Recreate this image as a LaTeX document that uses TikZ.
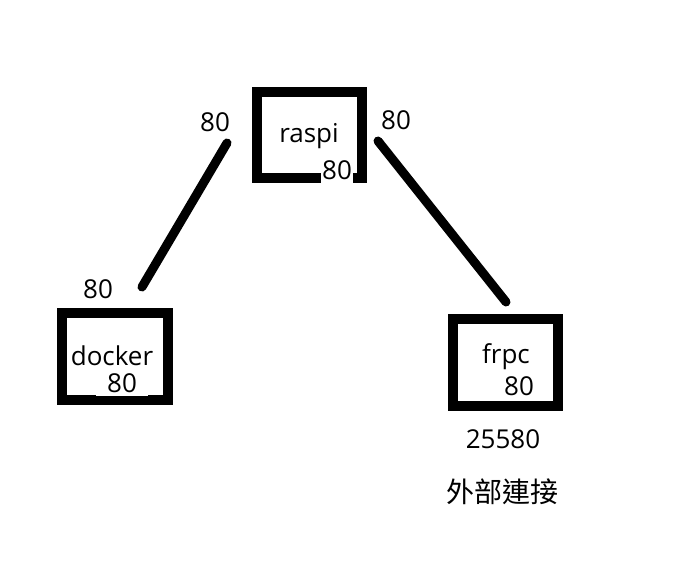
\documentclass[tikz,border=0pt]{standalone}
\usepackage{fontspec}
\setmainfont{Open Sans}
\newfontfamily\cjk{Noto Sans CJK TC}
\begin{document}
\begin{tikzpicture}[x=1pt,y=-1pt,
  box/.style={draw=black,line width=10pt,minimum width=#1,minimum height=87pt,inner sep=0pt},
  lbl/.style={font=\fontsize{26}{30}\selectfont,inner sep=0pt,anchor=base},
  wire/.style={line width=9pt,line cap=round}]
\useasboundingbox (0,0) rectangle (696,564);
\fill[white] (0,0) rectangle (696,564);
% boxes
\node[box=105pt,minimum height=86pt] (raspi) at (309.5,135) {};
\node[box=106pt] (docker) at (115,356.5) {};
\node[box=105pt] (frpc) at (505.5,362.5) {};
% box texts
\node[lbl] (traspi) at (309,143) {raspi};
\node[lbl,fill=white,inner ysep=3pt,inner xsep=1pt] (praspi) at (337,180) {80};
\node[lbl] (tdocker) at (112,365) {docker};
\node[lbl,fill=white,minimum width=52pt,inner ysep=4pt] (pdocker) at (122,392) {80};
\node[lbl] (tfrpc) at (506,363) {frpc};
\node[lbl] (pfrpc) at (519,395) {80};
% outer labels
\node[lbl] (l1) at (215,132) {80};
\node[lbl] (l2) at (396,130) {80};
\node[lbl] (l3) at (98,298) {80};
\node[lbl] (ext) at (503,448) {25580};
\node[font=\cjk\fontsize{28}{32}\selectfont,inner sep=0pt] (cjk) at (502,492) {外部連接};
% connectors
\coordinate (a1) at (227,143);
\coordinate (a2) at (142,287);
\coordinate (b1) at (378,141);
\coordinate (b2) at (506,302);
\draw[wire] (a1) -- (a2);
\draw[wire] (b1) -- (b2);
\end{tikzpicture}
\end{document}
